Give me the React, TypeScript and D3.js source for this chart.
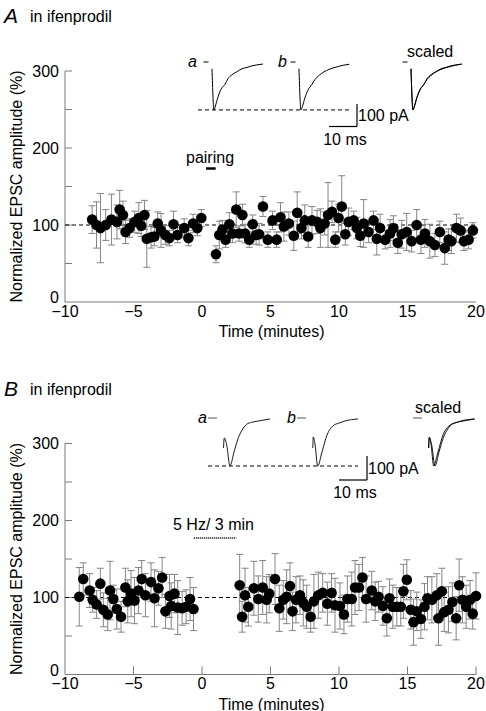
import React from "react";
import * as d3 from "d3";

// ---------- Panel A data (time in min, normalized EPSC %, s.e.m.) ----------
const aTimes = [
  -8.02, -7.7, -7.41, -7.03, -6.61, -6.21, -6.01, -5.77, -5.58, -5.29, -4.92, -4.61, -4.44, -4.2,
  -4.03, -3.72, -3.48, -3.23, -2.99, -2.68, -2.39, -2.08, -1.79, -1.3, -0.99, -0.65, -0.34, -0.05,
  1.02, 1.26, 1.5, 1.72, 2.0, 2.22, 2.5, 2.71, 2.95, 3.14, 3.45, 3.7, 3.95, 4.17, 4.45, 4.8, 5.15,
  5.45, 5.73, 5.98, 6.34, 6.7, 6.95, 7.26, 7.5, 7.75, 8.03, 8.4, 8.64, 8.95, 9.2, 9.49, 9.73, 9.97,
  10.2, 10.46, 10.7, 11.07, 11.3, 11.55, 11.8, 12.16, 12.52, 12.76, 13.0, 13.37, 13.73, 13.97,
  14.29, 14.58, 14.94, 15.3, 15.67, 15.98, 16.27, 16.63, 17.0, 17.36, 17.72, 18.0, 18.2, 18.57,
  18.88, 19.12, 19.46, 19.77,
];
const aValues = [
  107, 100, 96, 100, 107, 104, 120, 113, 91, 96, 104, 109, 99, 113,
  82, 84, 85, 102, 93, 87, 83, 101, 87, 96, 83, 102, 96, 109,
  62, 87, 94, 81, 101, 89, 120, 89, 113, 89, 81, 101, 87, 88, 124, 81, 106,
  81, 110, 98, 102, 86, 116, 96, 106, 85, 106, 104, 96, 102, 113, 117, 81, 109,
  124, 88, 104, 106, 96, 86, 102, 91, 106, 82, 96, 81, 89, 96,
  77, 88, 91, 79, 100, 81, 89, 79, 74, 91, 70, 81, 79, 96,
  93, 79, 81, 93,
];
const aErrors = [
  18, 30, 45, 20, 33, 22, 25, 18, 15, 12, 14, 20, 14, 19,
  37, 14, 12, 15, 22, 12, 10, 17, 10, 12, 10, 12, 10, 11,
  11, 18, 12, 10, 15, 12, 23, 10, 14, 12, 10, 12, 12, 14, 13, 10, 12,
  10, 19, 19, 15, 19, 27, 14, 20, 14, 18, 15, 25, 15, 42, 14, 10, 18,
  40, 14, 18, 12, 14, 14, 31, 14, 12, 21, 18, 12, 18, 16,
  14, 18, 24, 14, 20, 18, 18, 22, 15, 14, 21, 14, 16, 18,
  16, 12, 12, 10,
];

// ---------- Panel B data ----------
const bTimes = [
  -8.96, -8.67, -8.2, -7.98, -7.69, -7.42, -7.2, -6.88, -6.71, -6.47, -6.22, -5.91, -5.59, -5.42,
  -5.18, -4.93, -4.64, -4.4, -4.13, -3.72, -3.47, -3.18, -2.91, -2.67, -2.37, -2.25, -2.01, -1.77,
  -1.45, -1.16, -0.87, -0.62,
  2.75, 2.93, 3.14, 3.38, 3.79, 4.11, 4.43, 4.72, 4.91, 5.33, 5.64, 5.93, 6.18, 6.42, 6.61, 6.86,
  7.15, 7.39, 7.64, 7.93, 8.17, 8.49, 8.81, 9.15, 9.46, 9.71, 10.07, 10.36, 10.61, 10.93, 11.17,
  11.46, 11.71, 11.98, 12.39, 12.64, 12.88, 13.2, 13.49, 13.68, 13.93, 14.22, 14.51, 14.7, 14.95,
  15.24, 15.44, 15.68, 15.98, 16.24, 16.46, 16.78, 17.14, 17.26, 17.51, 17.68, 17.99, 18.28, 18.55,
  18.77, 19.01, 19.28, 19.57, 19.76, 20.0,
];
const bValues = [
  101, 124, 109, 97, 91, 118, 84, 78, 109, 98, 85, 75, 113, 95,
  105, 96, 109, 124, 103, 120, 99, 112, 126, 82, 102, 89, 105, 87,
  86, 88, 98, 85,
  116, 75, 103, 88, 112, 98, 113, 97, 105, 124, 86, 97, 101, 115, 82, 97,
  103, 93, 88, 75, 95, 103, 106, 92, 106, 90, 89, 78, 98, 98, 113,
  113, 126, 98, 109, 95, 101, 89, 73, 99, 88, 88, 88, 108, 123,
  84, 68, 82, 72, 88, 99, 97, 103, 73, 108, 81, 84, 94, 73,
  116, 97, 88, 97, 79, 102,
];
const bErrors = [
  38, 21, 22, 16, 18, 20, 22, 21, 38, 18, 26, 20, 25, 28,
  30, 30, 30, 24, 28, 25, 37, 22, 26, 22, 28, 30, 25, 35,
  22, 22, 28, 28,
  40, 20, 35, 25, 35, 30, 35, 30, 25, 33, 30, 25, 35, 30, 25, 30,
  25, 30, 28, 20, 35, 30, 25, 28, 25, 35, 30, 25, 30, 35, 35,
  30, 26, 30, 25, 25, 20, 25, 23, 25, 28, 25, 25, 35, 26,
  25, 30, 25, 25, 30, 28, 30, 28, 35, 30, 25, 30, 25, 28,
  34, 30, 28, 25, 20, 30,
];

// ---------- axis ticks ----------
const xTickValues = [-10, -5, 0, 5, 10, 15, 20];
const yTickValues = [50, 100, 150, 200, 250, 300];
const yLabelValues = [0, 100, 200, 300];

// ---------- inset EPSC traces (ms, pA relative to baseline) ----------
const aTraceA_t = [0, 0.7, 1.1, 2.1, 3.2, 4.6, 5.7, 7.1, 8.9, 10.7, 12.5, 14.3, 16.0, 18.2];
const aTraceA_i = [-30, -213, -200, -157, -122, -100, -74, -57, -43, -30, -24, -17, -13, -9];
const aTraceB_t = [0, 0.7, 1.1, 2.1, 3.2, 4.6, 5.7, 7.1, 8.9, 10.7, 12.5, 14.3, 16.0, 18.0];
const aTraceB_i = [-30, -213, -202, -160, -125, -100, -78, -60, -44, -33, -25, -19, -14, -10];

const bTraceA_t = [-0.18, 0.1, 0.96, 2.14, 3.57, 5.1, 6.9, 8.1, 9.9, 12.25, 16.4];
const bTraceA_i = [-125, -83, -112, -200, -142, -83, -42, -26, -18, -12.5, -4];
const bTraceB_t = [-0.07, 0.1, 0.71, 1.68, 3.2, 5.0, 7.1, 9.3, 11.4, 16.1];
const bTraceB_i = [-125, -79, -108, -200, -142, -71, -33, -21, -12.5, -4];

const FONT = "Arial, 'Liberation Sans', Helvetica, sans-serif";
const AXIS = "#7a7a7a";
const ERR = "#858585";

type PanelProps = {
  letter: string;
  times: number[];
  values: number[];
  errors: number[];
  x: d3.ScaleLinear<number, number>;
  y: d3.ScaleLinear<number, number>;
  xTicks: boolean;
  headerY: number;
};

function Panel({ letter, times, values, errors, x, y, xTicks, headerY }: PanelProps) {
  const [x0, x1] = x.range();
  const y0 = y(0);
  const yTop = y(300);
  const capW = 3.5;
  return (
    <g>
      <text x={4} y={headerY} fontFamily={FONT} fontSize={21} fontStyle="italic">{letter}</text>
      <text x={30} y={headerY - 1} fontFamily={FONT} fontSize={16}>in ifenprodil</text>
      {/* axes */}
      <line x1={x0} x2={x0} y1={yTop} y2={y0} stroke={AXIS} strokeWidth={1} />
      <line x1={x0} x2={x1} y1={y0} y2={y0} stroke={AXIS} strokeWidth={1} />
      {yTickValues.map((v) => (
        <line key={"yt" + v} x1={x0} x2={x0 + 7} y1={y(v)} y2={y(v)} stroke={AXIS} strokeWidth={1} />
      ))}
      {yLabelValues.map((v) => (
        <text
          key={"yl" + v}
          x={x0 - 6}
          y={y(v) - (v === 0 ? 4.5 : 0)}
          dy="0.36em"
          textAnchor="end"
          fontFamily={FONT}
          fontSize={16}
        >
          {v}
        </text>
      ))}
      {xTicks &&
        xTickValues.slice(1).map((t) => (
          <line key={"xt" + t} x1={x(t)} x2={x(t)} y1={y0} y2={y0 - 8} stroke={AXIS} strokeWidth={1} />
        ))}
      {xTickValues.map((t) => (
        <text key={"xl" + t} x={x(t)} y={y0 + 14.5} textAnchor="middle" fontFamily={FONT} fontSize={16}>
          {t < 0 ? "\u2212" + Math.abs(t) : String(t)}
        </text>
      ))}
      <text x={(x0 + x1) / 2 + 1} y={y0 + 35} textAnchor="middle" fontFamily={FONT} fontSize={16}>
        Time (minutes)
      </text>
      <text
        transform={`translate(22,${(y0 + yTop) / 2}) rotate(-90)`}
        textAnchor="middle"
        fontFamily={FONT}
        fontSize={16}
      >
        Normalized EPSC amplitude (%)
      </text>
      {/* 100 % dashed line */}
      <line x1={x(-10)} x2={x(20)} y1={y(100)} y2={y(100)} stroke="#000" strokeWidth={1.2} strokeDasharray="4,3" />
      {/* error bars */}
      {times.map((t, i) => {
        const cx = x(t);
        const hi = y(values[i] + errors[i]);
        const lo = y(values[i] - errors[i]);
        return (
          <g key={"e" + i} stroke={ERR} strokeWidth={1}>
            <line x1={cx} x2={cx} y1={hi} y2={lo} />
            <line x1={cx - capW} x2={cx + capW} y1={hi} y2={hi} />
            <line x1={cx - capW} x2={cx + capW} y1={lo} y2={lo} />
          </g>
        );
      })}
      {times.map((t, i) => (
        <circle key={"c" + i} cx={x(t)} cy={y(values[i])} r={5.3} fill="#000" />
      ))}
    </g>
  );
}

type InsetProps = {
  baseY: number;
  peakLineX: [number, number];
  origins: [number, number, number];
  ts: [number[], number[]];
  is: [number[], number[]];
  paPx: number;
  barX: number;
  barTop: number;
  dashLen: number;
  dashGap: number;
  labelDx: [number, number];
  scaledDx: number;
  thin: boolean;
};

function Inset({
  baseY,
  peakLineX,
  origins,
  ts,
  is,
  paPx,
  barX,
  barTop,
  dashLen,
  dashGap,
  labelDx,
  scaledDx,
  thin,
}: InsetProps) {
  const msPx = 2.8;
  const makeLine = (ox: number, scaleFactor: number) => {
    const xs = d3.scaleLinear().domain([0, 10]).range([ox, ox + 10 * msPx]);
    const ys = d3.scaleLinear().domain([0, -100]).range([baseY, baseY + paPx]);
    return d3
      .line<[number, number]>()
      .x((d) => xs(d[0]))
      .y((d) => ys(d[1] * scaleFactor))
      .curve(d3.curveMonotoneX);
  };
  const zipped = (k: number) => ts[k].map((t, i) => [t, is[k][i]] as [number, number]);
  const peakA = d3.min(is[0]) as number;
  const peakB = d3.min(is[1]) as number;
  const ysA = d3.scaleLinear().domain([0, -100]).range([baseY, baseY + paPx]);
  const peakY = ysA(peakA);
  const sw = thin ? 0.9 : 1;
  const labels = ["a", "b"];
  const dashColor = thin ? "#555" : "#000";
  return (
    <g fontFamily={FONT}>
      {[0, 1].map((k) => (
        <g key={"tr" + k}>
          <text x={origins[k] + labelDx[k]} y={baseY + 5} fontSize={16} fontStyle="italic">
            {labels[k]}
          </text>
          <line
            x1={origins[k] - dashGap - dashLen}
            x2={origins[k] - dashGap}
            y1={baseY}
            y2={baseY}
            stroke={dashColor}
            strokeWidth={1}
          />
          <path d={makeLine(origins[k], 1)(zipped(k)) || ""} fill="none" stroke="#000" strokeWidth={sw} />
        </g>
      ))}
      {/* scaled overlay */}
      <line
        x1={origins[2] - dashGap - dashLen}
        x2={origins[2] - dashGap}
        y1={baseY}
        y2={baseY}
        stroke={dashColor}
        strokeWidth={1}
      />
      <text x={origins[2] + scaledDx} y={baseY - 5} fontSize={16}>scaled</text>
      <path d={makeLine(origins[2], 1)(zipped(0)) || ""} fill="none" stroke="#000" strokeWidth={sw} />
      <path d={makeLine(origins[2], peakA / peakB)(zipped(1)) || ""} fill="none" stroke="#000" strokeWidth={sw} />
      {/* peak dashed line */}
      <line x1={peakLineX[0]} x2={peakLineX[1]} y1={peakY} y2={peakY} stroke="#000" strokeWidth={1} strokeDasharray="4,3" />
      {/* scale bars */}
      <line x1={barX} x2={barX} y1={barTop} y2={barTop + paPx} stroke="#000" strokeWidth={1.2} />
      <line x1={barX - 10 * msPx} x2={barX} y1={barTop + paPx} y2={barTop + paPx} stroke="#000" strokeWidth={1.2} />
      <text x={barX + 1} y={barTop + paPx / 2 + 6} fontSize={16}>100 pA</text>
      <text x={barX - 12} y={barTop + paPx + 18} fontSize={16} textAnchor="middle">10 ms</text>
    </g>
  );
}

export default function App() {
  const xA = d3.scaleLinear().domain([-10, 20]).range([65, 476]);
  const yA = d3.scaleLinear().domain([0, 300]).range([302, 71]);
  const xB = d3.scaleLinear().domain([-10, 20]).range([65, 476]);
  const yB = d3.scaleLinear().domain([0, 300]).range([674.5, 443.5]);

  return (
    <svg
      width={486}
      height={711}
      viewBox="0 0 486 711"
      style={{ position: "absolute", left: 0, top: 0, background: "#fff" }}
    >
      <rect x={0} y={0} width={486} height={711} fill="#fff" />
      <Panel letter="A" times={aTimes} values={aValues} errors={aErrors} x={xA} y={yA} xTicks={false} headerY={23} />
      <Panel letter="B" times={bTimes} values={bValues} errors={bErrors} x={xB} y={yB} xTicks={true} headerY={396} />

      {/* pairing marker */}
      <text x={186} y={163} fontFamily={FONT} fontSize={16}>pairing</text>
      <line x1={xA(0.3)} x2={xA(1.0)} y1={168.5} y2={168.5} stroke="#000" strokeWidth={2.5} />

      {/* 5 Hz / 3 min marker */}
      <text x={173} y={530} fontFamily={FONT} fontSize={16}>5 Hz/ 3 min</text>
      <line x1={xB(-0.6)} x2={xB(2.5)} y1={538} y2={538} stroke="#333" strokeWidth={2} strokeDasharray="1,1" />

      <Inset
        baseY={62}
        peakLineX={[198, 350]}
        origins={[212, 299, 411]}
        ts={[aTraceA_t, aTraceB_t]}
        is={[aTraceA_i, aTraceB_i]}
        paPx={22.5}
        barX={357}
        barTop={104}
        dashLen={5}
        dashGap={3.5}
        labelDx={[-24, -21]}
        scaledDx={-4}
        thin={false}
      />
      <Inset
        baseY={418}
        peakLineX={[208, 358]}
        origins={[224, 313, 429]}
        ts={[bTraceA_t, bTraceB_t]}
        is={[bTraceA_i, bTraceB_i]}
        paPx={24}
        barX={367}
        barTop={456}
        dashLen={9}
        dashGap={7}
        labelDx={[-26, -26]}
        scaledDx={-14}
        thin={true}
      />
    </svg>
  );
}
